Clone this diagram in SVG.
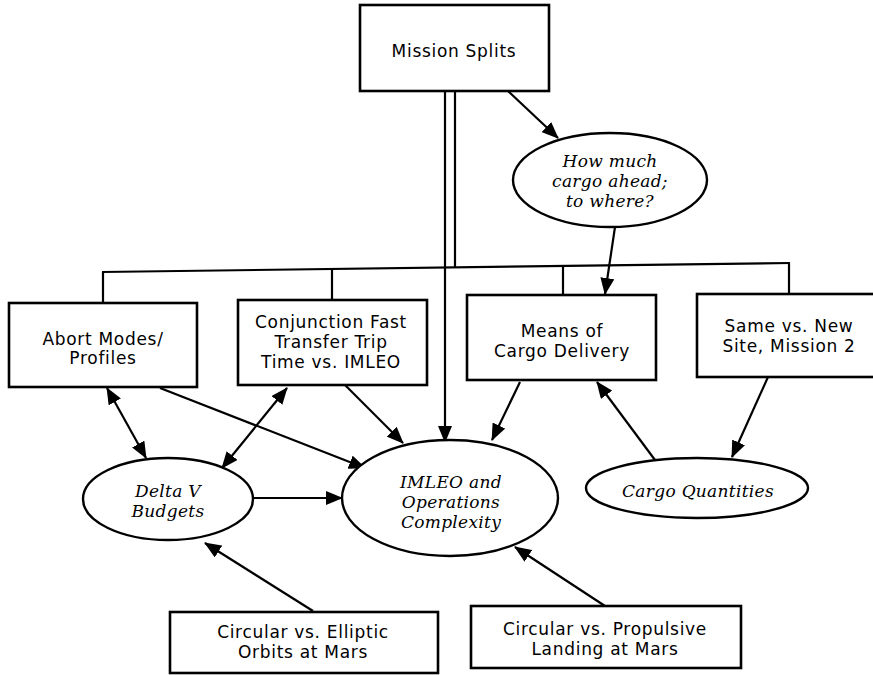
<svg xmlns="http://www.w3.org/2000/svg" width="873" height="675" viewBox="0 0 873 675">
<defs>
<style>
.box{fill:#fff;stroke:#000;stroke-width:2.6}
.ell{fill:#fff;stroke:#000;stroke-width:2.4}
.ln{fill:none;stroke:#000;stroke-width:2.2}
.ar{fill:none;stroke:#000;stroke-width:2.2;marker-end:url(#ah)}
.ar2{fill:none;stroke:#000;stroke-width:2.2;marker-end:url(#ah);marker-start:url(#ahs)}
.t{font-family:"DejaVu Sans","Liberation Sans",sans-serif;font-size:17px;letter-spacing:0.7px;text-anchor:middle;fill:#000}
.i{font-family:"DejaVu Serif","Liberation Serif",serif;font-style:italic;font-size:17px;letter-spacing:0.3px;text-anchor:middle;fill:#000}
</style>
<marker id="ah" viewBox="0 0 17 14" refX="16" refY="7" markerWidth="17" markerHeight="14" markerUnits="userSpaceOnUse" orient="auto">
<path d="M0,0 L17,7 L0,14 z" fill="#000"/>
</marker>
<marker id="ahs" viewBox="0 0 17 14" refX="1" refY="7" markerWidth="17" markerHeight="14" markerUnits="userSpaceOnUse" orient="auto">
<path d="M17,0 L0,7 L17,14 z" fill="#000"/>
</marker>
</defs>
<rect width="873" height="675" fill="#fff"/>

<g id="connectors">
<line class="ln" x1="455" y1="91" x2="455" y2="267"/>
<line class="ar" x1="445" y1="91" x2="445" y2="442"/>
<line class="ln" x1="102" y1="272" x2="790" y2="263"/>
<line class="ln" x1="103" y1="272" x2="103" y2="303"/>
<line class="ln" x1="332" y1="269" x2="332" y2="300"/>
<line class="ln" x1="563" y1="266" x2="563" y2="295"/>
<line class="ln" x1="789" y1="263" x2="789" y2="294"/>
<line class="ar" x1="508" y1="91" x2="558" y2="138"/>
<line class="ar" x1="615" y1="227" x2="605" y2="294"/>
<line class="ar2" x1="107" y1="388" x2="146" y2="458"/>
<line class="ar" x1="160" y1="388" x2="365" y2="468"/>
<line class="ar2" x1="287" y1="388" x2="222" y2="468"/>
<line class="ar" x1="345" y1="385" x2="403" y2="443"/>
<line class="ar" x1="252" y1="498" x2="342" y2="498"/>
<line class="ar" x1="520" y1="382" x2="492" y2="440"/>
<line class="ar" x1="655" y1="460" x2="597" y2="382"/>
<line class="ar" x1="768" y1="377" x2="732" y2="457"/>
<line class="ar" x1="313" y1="611" x2="205" y2="543"/>
<line class="ar" x1="605" y1="606" x2="515" y2="547"/>
</g>

<g id="mission-splits">
<rect class="box" x="360" y="5" width="189" height="86"/>
<text class="t" x="454" y="57">Mission Splits</text>
</g>

<g id="how-much-cargo">
<ellipse class="ell" cx="610" cy="180" rx="97" ry="47"/>
<text class="i" x="610" y="167">How much</text>
<text class="i" x="610" y="187">cargo ahead;</text>
<text class="i" x="610" y="207">to where?</text>
</g>

<g id="abort-modes">
<rect class="box" x="9" y="303" width="188" height="84"/>
<text class="t" x="103" y="345">Abort Modes/</text>
<text class="t" x="103" y="364">Profiles</text>
</g>

<g id="conjunction">
<rect class="box" x="238" y="300" width="189" height="85"/>
<text class="t" x="331" y="328">Conjunction Fast</text>
<text class="t" x="331" y="348">Transfer Trip</text>
<text class="t" x="331" y="368">Time vs. IMLEO</text>
</g>

<g id="means-of-cargo">
<rect class="box" x="467" y="295" width="189" height="85"/>
<text class="t" x="562" y="337">Means of</text>
<text class="t" x="562" y="357">Cargo Delivery</text>
</g>

<g id="same-vs-new">
<rect class="box" x="697" y="294" width="180" height="83"/>
<text class="t" x="789" y="332">Same vs. New</text>
<text class="t" x="789" y="352">Site, Mission 2</text>
</g>

<g id="delta-v">
<ellipse class="ell" cx="168" cy="499" rx="85" ry="41"/>
<text class="i" x="168" y="497">Delta V</text>
<text class="i" x="168" y="517">Budgets</text>
</g>

<g id="imleo">
<ellipse class="ell" cx="450" cy="498" rx="108" ry="58"/>
<text class="i" x="451" y="488">IMLEO and</text>
<text class="i" x="451" y="508">Operations</text>
<text class="i" x="451" y="528">Complexity</text>
</g>

<g id="cargo-quantities">
<ellipse class="ell" cx="697" cy="488" rx="111" ry="30"/>
<text class="i" x="698" y="497">Cargo Quantities</text>
</g>

<g id="circular-elliptic">
<rect class="box" x="170" y="612" width="268" height="61"/>
<text class="t" x="303" y="638">Circular vs. Elliptic</text>
<text class="t" x="303" y="658">Orbits at Mars</text>
</g>

<g id="circular-propulsive">
<rect class="box" x="471" y="606" width="270" height="62"/>
<text class="t" x="605" y="635">Circular vs. Propulsive</text>
<text class="t" x="605" y="655">Landing at Mars</text>
</g>
</svg>
